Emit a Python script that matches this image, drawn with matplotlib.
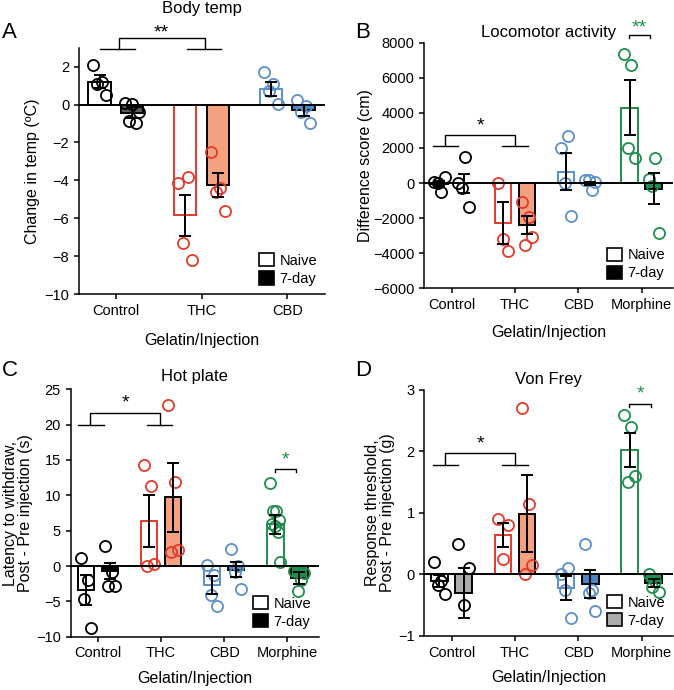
import numpy as np
import matplotlib.pyplot as plt
from matplotlib.patches import Patch

plt.rcParams['font.family'] = ['Liberation Sans', 'DejaVu Sans']
plt.rcParams['font.size'] = 10.5
plt.rcParams['axes.linewidth'] = 1.1

# ---- data ----
groups3 = ["Control", "THC", "CBD"]
groups4 = ["Control", "THC", "CBD", "Morphine"]
legend_labels = ["Naive", "7-day"]

# A: body temp (change in degC)
temp_naive_mean = [1.2, -5.85, 0.82]
temp_naive_sem = [0.35, 1.1, 0.37]
temp_day7_mean = [-0.43, -4.25, -0.3]
temp_day7_sem = [0.3, 0.65, 0.3]
temp_naive_pts = [[2.1, 1.2, 1.1, 0.5], [-4.15, -3.8, -7.3, -8.2],
                  [1.7, 1.1, 0.7, 0.05]]
temp_day7_pts = [[0.07, 0.02, -0.37, -0.86, -1.0], [-2.5, -4.4, -4.6, -5.6],
                 [0.25, -0.1, -0.37, -0.98]]

# B: locomotor activity (cm)
loco_naive_mean = [-30, -2300, 650, 4300]
loco_naive_sem = [150, 1200, 1050, 1550]
loco_day7_mean = [-20, -2400, -20, -330]
loco_day7_sem = [560, 520, 90, 880]
loco_naive_pts = [[60, -510, 0, 340], [0, -3850, -3180],
                  [2000, 2700, 0, -1900], [7350, 6730, 2000, 1430]]
loco_day7_pts = [[0, 1490, -260, -1370], [-1100, -1950, -3560, -3080],
                 [150, -420, 190, 50], [200, 1450, -150, -2830]]

# C: hot plate (s)
hot_naive_mean = [-3.4, 6.4, -2.7, 5.9]
hot_naive_sem = [2.1, 3.7, 1.3, 1.3]
hot_day7_mean = [-0.7, 9.7, -0.5, -1.7]
hot_day7_sem = [1.2, 4.9, 1.1, 0.8]
hot_naive_pts = [[1.2, -2.0, -4.6, -8.7], [14.3, 11.3, 0.0, 0.3],
                 [0.1, -1.3, -4.1, -5.7], [11.8, 7.8, 7.8, 6.5, 6.0, 5.6, 4.8, 0.6]]
hot_day7_pts = [[2.9, -0.8, -2.8, -2.8], [22.8, 11.9, 2.0, 2.3],
                [2.4, 0.0, -0.9, -3.3], [-0.7, -2.0, -3.6, -1.0]]

# D: von Frey (g)
vf_naive_mean = [-0.11, 0.64, -0.22, 2.02]
vf_naive_sem = [0.1, 0.2, 0.19, 0.28]
vf_day7_mean = [-0.3, 0.99, -0.16, -0.14]
vf_day7_sem = [0.4, 0.63, 0.23, 0.06]
vf_naive_pts = [[0.2, -0.1, -0.17, -0.32], [0.9, 0.8, 0.25],
                [0.0, 0.1, -0.25, -0.7], [2.6, 2.4, 1.5, 1.6]]
vf_day7_pts = [[0.5, 0.1, -0.5], [2.7, 1.15, 0.0, 0.15],
               [0.5, -0.25, -0.3, -0.6], [0.0, -0.1, -0.2, -0.28]]

# colours: line colour, 7-day fill
line_col = {"Control": "black", "THC": "#e4392b", "CBD": "#5b8fcb", "Morphine": "#1e8e4e"}
fill_col = {"Control": "black", "THC": "#f4a182", "CBD": "#4a84c4", "Morphine": "#1e8e4e"}

off = 0.19
bw = 0.26


def draw_panel(ax, groups, nm, ns, npts, dm, ds, dpts, ctrl_fill, legend_fill):
    x = np.arange(len(groups))
    for i, g in enumerate(groups):
        c = line_col[g]
        f = ctrl_fill if g == "Control" else fill_col[g]
        ax.bar(x[i] - off, nm[i], bw, color="white", edgecolor=c, lw=1.4, zorder=2)
        ax.bar(x[i] + off, dm[i], bw, color=f, edgecolor="black", lw=1.4, zorder=2)
        for xc, pts in ((x[i] - off, npts[i]), (x[i] + off, dpts[i])):
            n = len(pts)
            jit = np.linspace(-0.08, 0.08, n) if n > 1 else np.zeros(1)
            jit = jit[np.argsort(np.arange(n) % 2, kind="stable")]
            ax.plot(xc + jit, pts, "o", ms=8, mfc="none", mec=c, mew=1.3, zorder=3)
        ax.errorbar(x[i] - off, nm[i], yerr=ns[i], color="black", lw=1.4,
                    capsize=4, capthick=1.4, zorder=4)
        ax.errorbar(x[i] + off, dm[i], yerr=ds[i], color="black", lw=1.4,
                    capsize=4, capthick=1.4, zorder=4)
    ax.axhline(0, color="black", lw=1.4, zorder=5)
    ax.set_xticks(x)
    ax.set_xticklabels(groups)
    ax.set_xlim(-0.43, len(groups) - 0.5 if len(groups) == 4 else 2.44)
    ax.spines["top"].set_visible(False)
    ax.spines["right"].set_visible(False)
    ax.tick_params(width=1.1, length=3.5)
    handles = [Patch(facecolor="white", edgecolor="black", lw=1.2),
               Patch(facecolor=legend_fill, edgecolor="black", lw=1.2)]
    ax.legend(handles, legend_labels, loc="lower right", frameon=False,
              handlelength=1.0, handleheight=1.0, handletextpad=0.4,
              labelspacing=0.25, borderaxespad=0.15, fontsize=10.5)
    ax.set_xlabel("Gelatin/Injection", fontsize=11.5)
    ax.xaxis.label.set_va("center")
    ax.yaxis.label.set_va("center")


def group_bracket(ax, a, b, y_low, y_top, sx, sy, txt):
    kw = dict(color="black", lw=1.0, clip_on=False, zorder=6)
    for lo, hi, v in (a, b):
        ax.plot([lo, hi], [y_low, y_low], **kw)
    ax.plot([a[2], a[2], b[2], b[2]], [y_low, y_top, y_top, y_low], **kw)
    ax.text(sx, sy, txt, ha="center", va="center", fontsize=14, clip_on=False)


def pair_bracket(ax, x1, x2, y, dy, sy, txt):
    col = line_col["Morphine"]
    ax.plot([x1, x1, x2, x2], [y - dy, y, y, y - dy], color="black", lw=1.0,
            clip_on=False, zorder=6)
    ax.text((x1 + x2) / 2, sy, txt, ha="center", va="center", fontsize=14,
            color=col, clip_on=False)


fig = plt.figure(figsize=(6.74, 6.90), dpi=100)
axA = fig.add_axes([0.1172, 0.5739, 0.365, 0.357])
axB = fig.add_axes([0.6295, 0.5822, 0.3694, 0.356])
axC = fig.add_axes([0.1049, 0.0772, 0.3684, 0.3586])
axD = fig.add_axes([0.6295, 0.0783, 0.3694, 0.3565])

# A
draw_panel(axA, groups3, temp_naive_mean, temp_naive_sem, temp_naive_pts,
           temp_day7_mean, temp_day7_sem, temp_day7_pts, "#5a5a5a", "black")
axA.set_ylim(-10, 3)
axA.set_yticks(np.arange(-10, 3, 2))
axA.set_ylabel("Change in temp (ºC)", fontsize=11.5)
axA.yaxis.set_label_coords(-0.187, 0.5)
axA.xaxis.set_label_coords(0.5, -0.187)
axA.text(0.5, 1.161, "Body temp", transform=axA.transAxes, ha="center", va="center", fontsize=12)
group_bracket(axA, (-0.19, 0.22, 0.035), (0.825, 1.23, 1.035), 2.95, 3.53, 0.535, 3.78, "**")

# B
draw_panel(axB, groups4, loco_naive_mean, loco_naive_sem, loco_naive_pts,
           loco_day7_mean, loco_day7_sem, loco_day7_pts, "black", "black")
axB.set_ylim(-6000, 8000)
axB.set_yticks(np.arange(-6000, 8001, 2000))
axB.set_ylabel("Difference score (cm)", fontsize=11.5)
axB.yaxis.set_label_coords(-0.237, 0.5)
axB.xaxis.set_label_coords(0.5, -0.18)
axB.text(0.5, 1.04, "Locomotor activity", transform=axB.transAxes, ha="center", va="center", fontsize=12)
group_bracket(axB, (-0.3, 0.1, -0.1), (0.8, 1.2, 1.0), 2100, 2720, 0.46, 3250, "*")
pair_bracket(axB, 2.8, 3.14, 8440, 200, 8850, "**")

# C
draw_panel(axC, groups4, hot_naive_mean, hot_naive_sem, hot_naive_pts,
           hot_day7_mean, hot_day7_sem, hot_day7_pts, "black", "black")
axC.set_ylim(-10, 25)
axC.set_yticks(np.arange(-10, 26, 5))
axC.set_ylabel("Latency to withdraw,\nPost - Pre injection (s)", fontsize=11.5, linespacing=1.0)
axC.yaxis.set_label_coords(-0.212, 0.5)
axC.xaxis.set_label_coords(0.5, -0.17)
axC.text(0.5, 1.051, "Hot plate", transform=axC.transAxes, ha="center", va="center", fontsize=12)
group_bracket(axC, (-0.32, 0.09, -0.12), (0.77, 1.17, 0.98), 20.0, 21.6, 0.43, 23.0, "*")
pair_bracket(axC, 2.8, 3.14, 13.7, 0.4, 15.0, "*")

# D
draw_panel(axD, groups4, vf_naive_mean, vf_naive_sem, vf_naive_pts,
           vf_day7_mean, vf_day7_sem, vf_day7_pts, "#ababab", "#ababab")
axD.set_ylim(-1, 3)
axD.set_yticks(np.arange(-1, 4, 1))
axD.set_ylabel("Response threshold,\nPost - Pre injection (g)", fontsize=11.5, linespacing=1.0)
axD.yaxis.set_label_coords(-0.178, 0.5)
axD.xaxis.set_label_coords(0.5, -0.17)
axD.text(0.5, 1.041, "Von Frey", transform=axD.transAxes, ha="center", va="center", fontsize=12)
group_bracket(axD, (-0.3, 0.1, -0.1), (0.8, 1.2, 1.0), 1.78, 1.97, 0.46, 2.13, "*")
pair_bracket(axD, 2.8, 3.15, 2.77, 0.05, 2.93, "*")

# panel letters
for lab, px, py in (("A", 2, 32), ("B", 355, 32), ("C", 2, 370), ("D", 355, 370)):
    fig.text(px / 674, 1 - py / 690, lab, ha="left", va="center", fontsize=16)

fig.savefig("out.png", dpi=100)
